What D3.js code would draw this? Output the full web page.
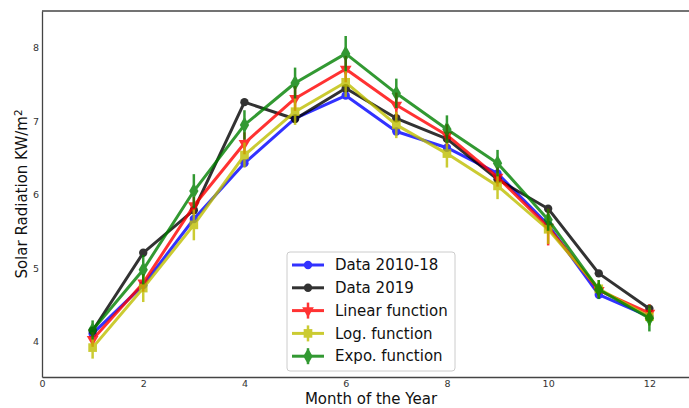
<!DOCTYPE html>
<html>
<head>
<meta charset="utf-8">
<script src="https://cdn.jsdelivr.net/npm/d3@7"></script>
<style>
  body { margin: 0; background: #fff; }
  svg { font-family: "DejaVu Sans", sans-serif; }
</style>
</head>
<body>
<div id="chart"></div>
<script>
// data
const months = [1, 2, 3, 4, 5, 6, 7, 8, 9, 10, 11, 12];
const data201018 = [4.11, 4.77, 5.67, 6.43, 7.04, 7.35, 6.86, 6.64, 6.29, 5.59, 4.64, 4.34];
const data2019 = [4.15, 5.21, 5.79, 7.26, 7.03, 7.45, 7.04, 6.76, 6.21, 5.81, 4.93, 4.45];
const linearFn = [4.03, 4.80, 5.85, 6.70, 7.31, 7.71, 7.22, 6.81, 6.24, 5.56, 4.70, 4.39];
const linearErr = [0.10, 0.12, 0.12, 0.15, 0.17, 0.18, 0.17, 0.15, 0.13, 0.25, 0.10, 0.12];
const logFn = [3.92, 4.73, 5.59, 6.54, 7.13, 7.53, 6.95, 6.56, 6.12, 5.53, 4.72, 4.34];
const logErr = [0.15, 0.19, 0.21, 0.17, 0.18, 0.20, 0.18, 0.19, 0.18, 0.20, 0.12, 0.12];
const expoFn = [4.16, 4.98, 6.05, 6.95, 7.52, 7.92, 7.38, 6.89, 6.43, 5.66, 4.71, 4.32];
const expoErr = [0.13, 0.20, 0.23, 0.20, 0.21, 0.24, 0.20, 0.19, 0.18, 0.15, 0.13, 0.18];
const xTicks = [0, 2, 4, 6, 8, 10, 12];
const yTicks = [4, 5, 6, 7, 8];

const series = [
  {name: "Data 2010-18", values: data201018, err: null, color: "#0000ff", symbol: d3.symbolCircle, size: 55, rot: 0},
  {name: "Data 2019", values: data2019, err: null, color: "#000000", symbol: d3.symbolCircle, size: 55, rot: 0},
  {name: "Linear function", values: linearFn, err: linearErr, color: "#ff0000", symbol: d3.symbolTriangle, size: 60, rot: 180},
  {name: "Log. function", values: logFn, err: logErr, color: "#bfbf00", symbol: d3.symbolSquare, size: 75, rot: 0},
  {name: "Expo. function", values: expoFn, err: expoErr, color: "#008000", symbol: d3.symbolDiamond, size: 75, rot: 0}
];

const W = 689, H = 408;
const plot = {left: 42, right: 700, top: 11, bottom: 377};

const svg = d3.select("#chart")
  .append("svg")
  .attr("width", W)
  .attr("height", H);

const x = d3.scaleLinear().domain([0, 13]).range([plot.left, plot.right]);
const y = d3.scaleLinear().domain([3.52, 8.5]).range([plot.bottom, plot.top]);

// axes
const xAxis = svg.append("g")
  .attr("transform", `translate(0, ${plot.bottom})`)
  .call(d3.axisBottom(x).tickValues(xTicks).tickFormat(d3.format("d")).tickSize(0).tickSizeOuter(0).tickPadding(3));
const yAxis = svg.append("g")
  .attr("transform", `translate(${plot.left}, 0)`)
  .call(d3.axisLeft(y).tickValues(yTicks).tickFormat(d3.format("d")).tickSize(0).tickSizeOuter(0).tickPadding(3));
[xAxis, yAxis].forEach(a => {
  a.selectAll("text").style("font-size", "9.5px").style("fill", "#333").style("font-family", "DejaVu Sans");
  a.select(".domain").attr("stroke", "#444").attr("stroke-width", 1.3);
});
svg.append("line")
  .attr("x1", plot.left).attr("x2", plot.right)
  .attr("y1", plot.top).attr("y2", plot.top)
  .attr("stroke", "#444").attr("stroke-width", 1.3);

// axis labels
svg.append("text")
  .attr("x", (plot.left + plot.right) / 2)
  .attr("y", 404)
  .attr("text-anchor", "middle")
  .style("font-size", "15px")
  .style("fill", "#111")
  .text("Month of the Year");

const ylab = svg.append("text")
  .attr("transform", `translate(27, ${(plot.top + plot.bottom) / 2}) rotate(-90)`)
  .attr("text-anchor", "middle")
  .style("font-size", "15px")
  .style("fill", "#111");
ylab.append("tspan").text("Solar Radiation KW/m");
ylab.append("tspan").attr("dy", "-0.45em").style("font-size", "10.5px").text("2");

// lines, error bars and markers
const line = d3.line().x((d, i) => x(months[i])).y(d => y(d));

series.forEach(s => {
  const g = svg.append("g").attr("opacity", 0.8);
  g.append("path")
    .datum(s.values)
    .attr("fill", "none")
    .attr("stroke", s.color)
    .attr("stroke-width", 3)
    .attr("stroke-linejoin", "round")
    .attr("d", line);
  if (s.err) {
    g.selectAll(".err")
      .data(s.values)
      .join("line")
      .attr("x1", (d, i) => x(months[i]))
      .attr("x2", (d, i) => x(months[i]))
      .attr("y1", (d, i) => y(d - s.err[i]))
      .attr("y2", (d, i) => y(d + s.err[i]))
      .attr("stroke", s.color)
      .attr("stroke-width", 2.5);
  }
  g.selectAll(".mark")
    .data(s.values)
    .join("path")
    .attr("transform", (d, i) => `translate(${x(months[i])}, ${y(d)}) rotate(${s.rot})`)
    .attr("d", d3.symbol().type(s.symbol).size(s.size))
    .attr("fill", s.color);
});

// legend
const lg = svg.append("g").attr("transform", "translate(287, 252)");
lg.append("rect")
  .attr("width", 168).attr("height", 119)
  .attr("rx", 3)
  .attr("fill", "#fff").attr("fill-opacity", 0.8)
  .attr("stroke", "#ccc");
series.forEach((s, i) => {
  const yy = 13 + i * 22.8;
  const item = lg.append("g").attr("opacity", 0.8);
  item.append("line")
    .attr("x1", 5).attr("x2", 37)
    .attr("y1", yy).attr("y2", yy)
    .attr("stroke", s.color).attr("stroke-width", 3);
  if (s.err) {
    item.append("line")
      .attr("x1", 21).attr("x2", 21)
      .attr("y1", yy - 8).attr("y2", yy + 8)
      .attr("stroke", s.color).attr("stroke-width", 2.5);
  }
  item.append("path")
    .attr("transform", `translate(21, ${yy}) rotate(${s.rot})`)
    .attr("d", d3.symbol().type(s.symbol).size(s.size))
    .attr("fill", s.color);
  lg.append("text")
    .attr("x", 48)
    .attr("y", yy)
    .attr("dy", "0.35em")
    .style("font-size", "15px")
    .style("fill", "#111")
    .text(s.name);
});
</script>
</body>
</html>
